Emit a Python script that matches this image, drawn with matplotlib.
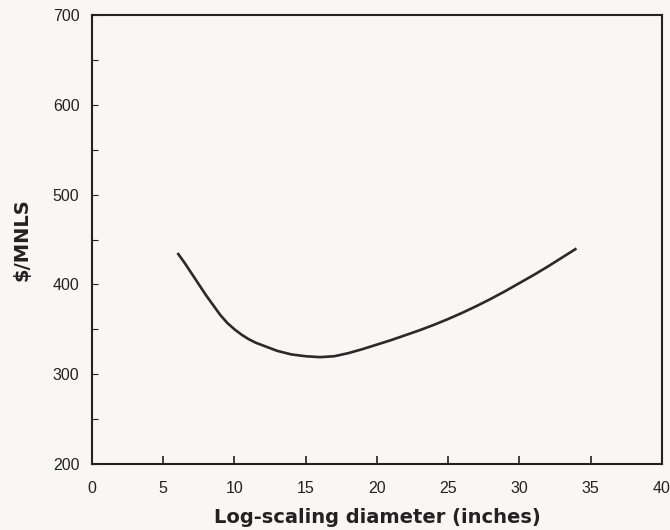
import numpy as np
import matplotlib.pyplot as plt
from matplotlib.ticker import MultipleLocator

# cost curve
diameter = [6, 6.5, 7, 7.5, 8, 8.5, 9, 9.5, 10, 10.5, 11, 11.5, 12, 13, 14, 15, 16,
            17, 18, 19, 20, 21, 22, 23, 24, 25, 26, 27, 28, 29, 30, 31, 32, 33, 34]
cost = [435, 424, 412, 400, 388, 377, 366, 357, 350, 344, 339, 335, 332, 326, 322,
        320, 319, 320, 323.5, 328, 333, 338, 343.5, 349, 355, 361.5, 368.5, 376, 384,
        392.5, 401.5, 410.5, 420, 430, 440]

x_ticks = [0, 5, 10, 15, 20, 25, 30, 35, 40]
y_ticks = [200, 300, 400, 500, 600, 700]

plt.rcParams['font.family'] = ['Liberation Sans', 'DejaVu Sans']
bg = '#f8f7f3'
ink = '#222222'

fig = plt.figure(figsize=(6.7, 5.3), dpi=100, facecolor=bg)
ax = fig.add_axes([0.1373, 0.1245, 0.8507, 0.8472])
ax.set_facecolor(bg)

ax.plot(diameter, cost, color='#2a2a2a', lw=1.9, solid_capstyle='butt',
        solid_joinstyle='round')

ax.set_xlim(0, 40)
ax.set_ylim(200, 700)
ax.set_xticks(x_ticks)
ax.set_yticks(y_ticks)
ax.yaxis.set_minor_locator(MultipleLocator(50))

for s in ax.spines.values():
    s.set_linewidth(1.5)
    s.set_color(ink)

ax.tick_params(axis='x', direction='in', length=6, width=1.2, pad=12,
               labelsize=11.5, colors=ink)
ax.tick_params(axis='y', which='both', direction='in', length=4, width=0.8, pad=9,
               labelsize=11.5, colors=ink)

ax.set_xlabel('Log-scaling diameter (inches)', fontsize=14, fontweight='bold',
              family='DejaVu Sans', color=ink, labelpad=9)
ax.set_ylabel(r'\$/MNLS', fontsize=14, fontweight='bold', family='DejaVu Sans',
              color=ink, labelpad=15)

fig.savefig('out.png', dpi=100, facecolor=bg)
